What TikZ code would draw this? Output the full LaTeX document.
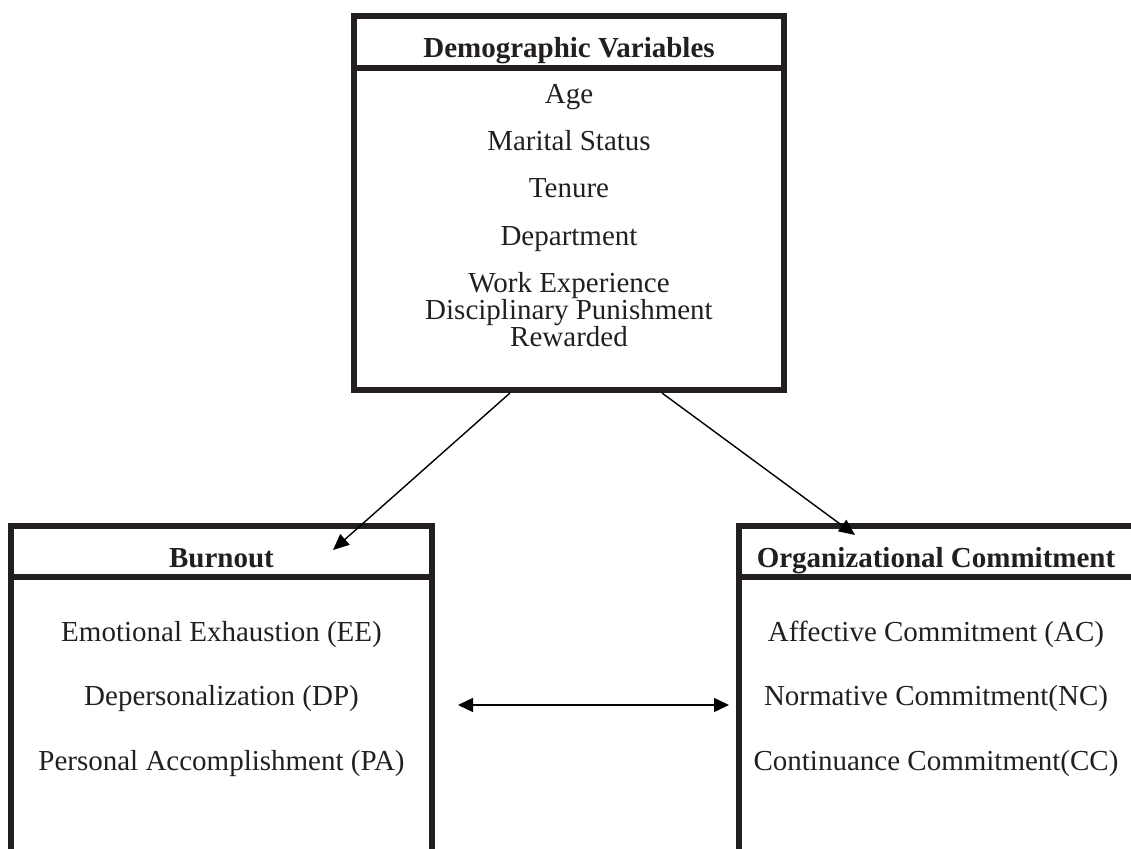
\documentclass[tikz,border=0pt]{standalone}
\usepackage{fontspec}
\setmainfont{Liberation Serif}
\usetikzlibrary{arrows.meta,fit}
\definecolor{ink}{HTML}{231F20}
\begin{document}
\begin{tikzpicture}[x=0.5pt,y=-0.5pt,
  boxline/.style={draw=ink,line width=3pt,line join=miter},
  ttl/.style={font=\fontsize{14.5}{17}\selectfont\bfseries,text=ink,anchor=base,inner sep=0pt},
  txt/.style={font=\fontsize{14.5}{17}\selectfont,text=ink,anchor=base,inner sep=0pt},
  arr/.style={draw=black,line width=0.7pt,-{Triangle[length=8pt,width=7pt]}},
  darr/.style={draw=black,line width=0.7pt,{Triangle[length=7.5pt,width=7pt]}-{Triangle[length=7.5pt,width=7pt]}}]
\useasboundingbox (0,0) rectangle (1131,849);
\clip (0,0) rectangle (1131,849);

% top box
\coordinate (tl) at (354,16);
\coordinate (br) at (784,390);
\node[boxline,fit=(tl)(br),inner sep=0pt] (demo) {};
\draw[boxline] (354,68.5) -- (784,68.5);
\node[ttl] (demoT) at (569,58) {Demographic Variables};
\node[txt] (d1) at (569,104) {Age};
\node[txt] (d2) at (569,151) {Marital Status};
\node[txt] (d3) at (569,198) {Tenure};
\node[txt] (d4) at (569,246) {Department};
\node[txt] (d5) at (569,293) {Work Experience};
\node[txt] (d6) at (569,320) {Disciplinary Punishment};
\node[txt] (d7) at (569,347) {Rewarded};

% left box
\draw[boxline] (11,870) -- (11,526) -- (432,526) -- (432,870);
\draw[boxline] (11,577) -- (432,577);
\node[ttl] (burT) at (221.5,568) {Burnout};
\node[txt] (b1) at (221.5,642) {Emotional Exhaustion (EE)};
\node[txt] (b2) at (221.5,706) {Depersonalization (DP)};
\node[txt] (b3) at (221.5,771) {Personal Accomplishment (PA)};

% right box
\draw[boxline] (739,870) -- (739,526) -- (1137,526) -- (1137,870);
\draw[boxline] (739,577) -- (1137,577);
\node[ttl] (orgT) at (936,568) {Organizational Commitment};
\node[txt] (o1) at (936,642) {Affective Commitment (AC)};
\node[txt] (o2) at (936,706) {Normative Commitment(NC)};
\node[txt] (o3) at (936,771) {Continuance Commitment(CC)};

% connectors
\coordinate (sL) at (510,393);
\coordinate (sR) at (662,393);
\coordinate (tL) at (333,550);
\coordinate (tR) at (855,535);
\draw[arr] (sL) -- (tL);
\draw[arr] (sR) -- (tR);
\coordinate (hL) at (458,705);
\coordinate (hR) at (729,705);
\draw[darr] (hL) -- (hR);
\end{tikzpicture}
\end{document}
